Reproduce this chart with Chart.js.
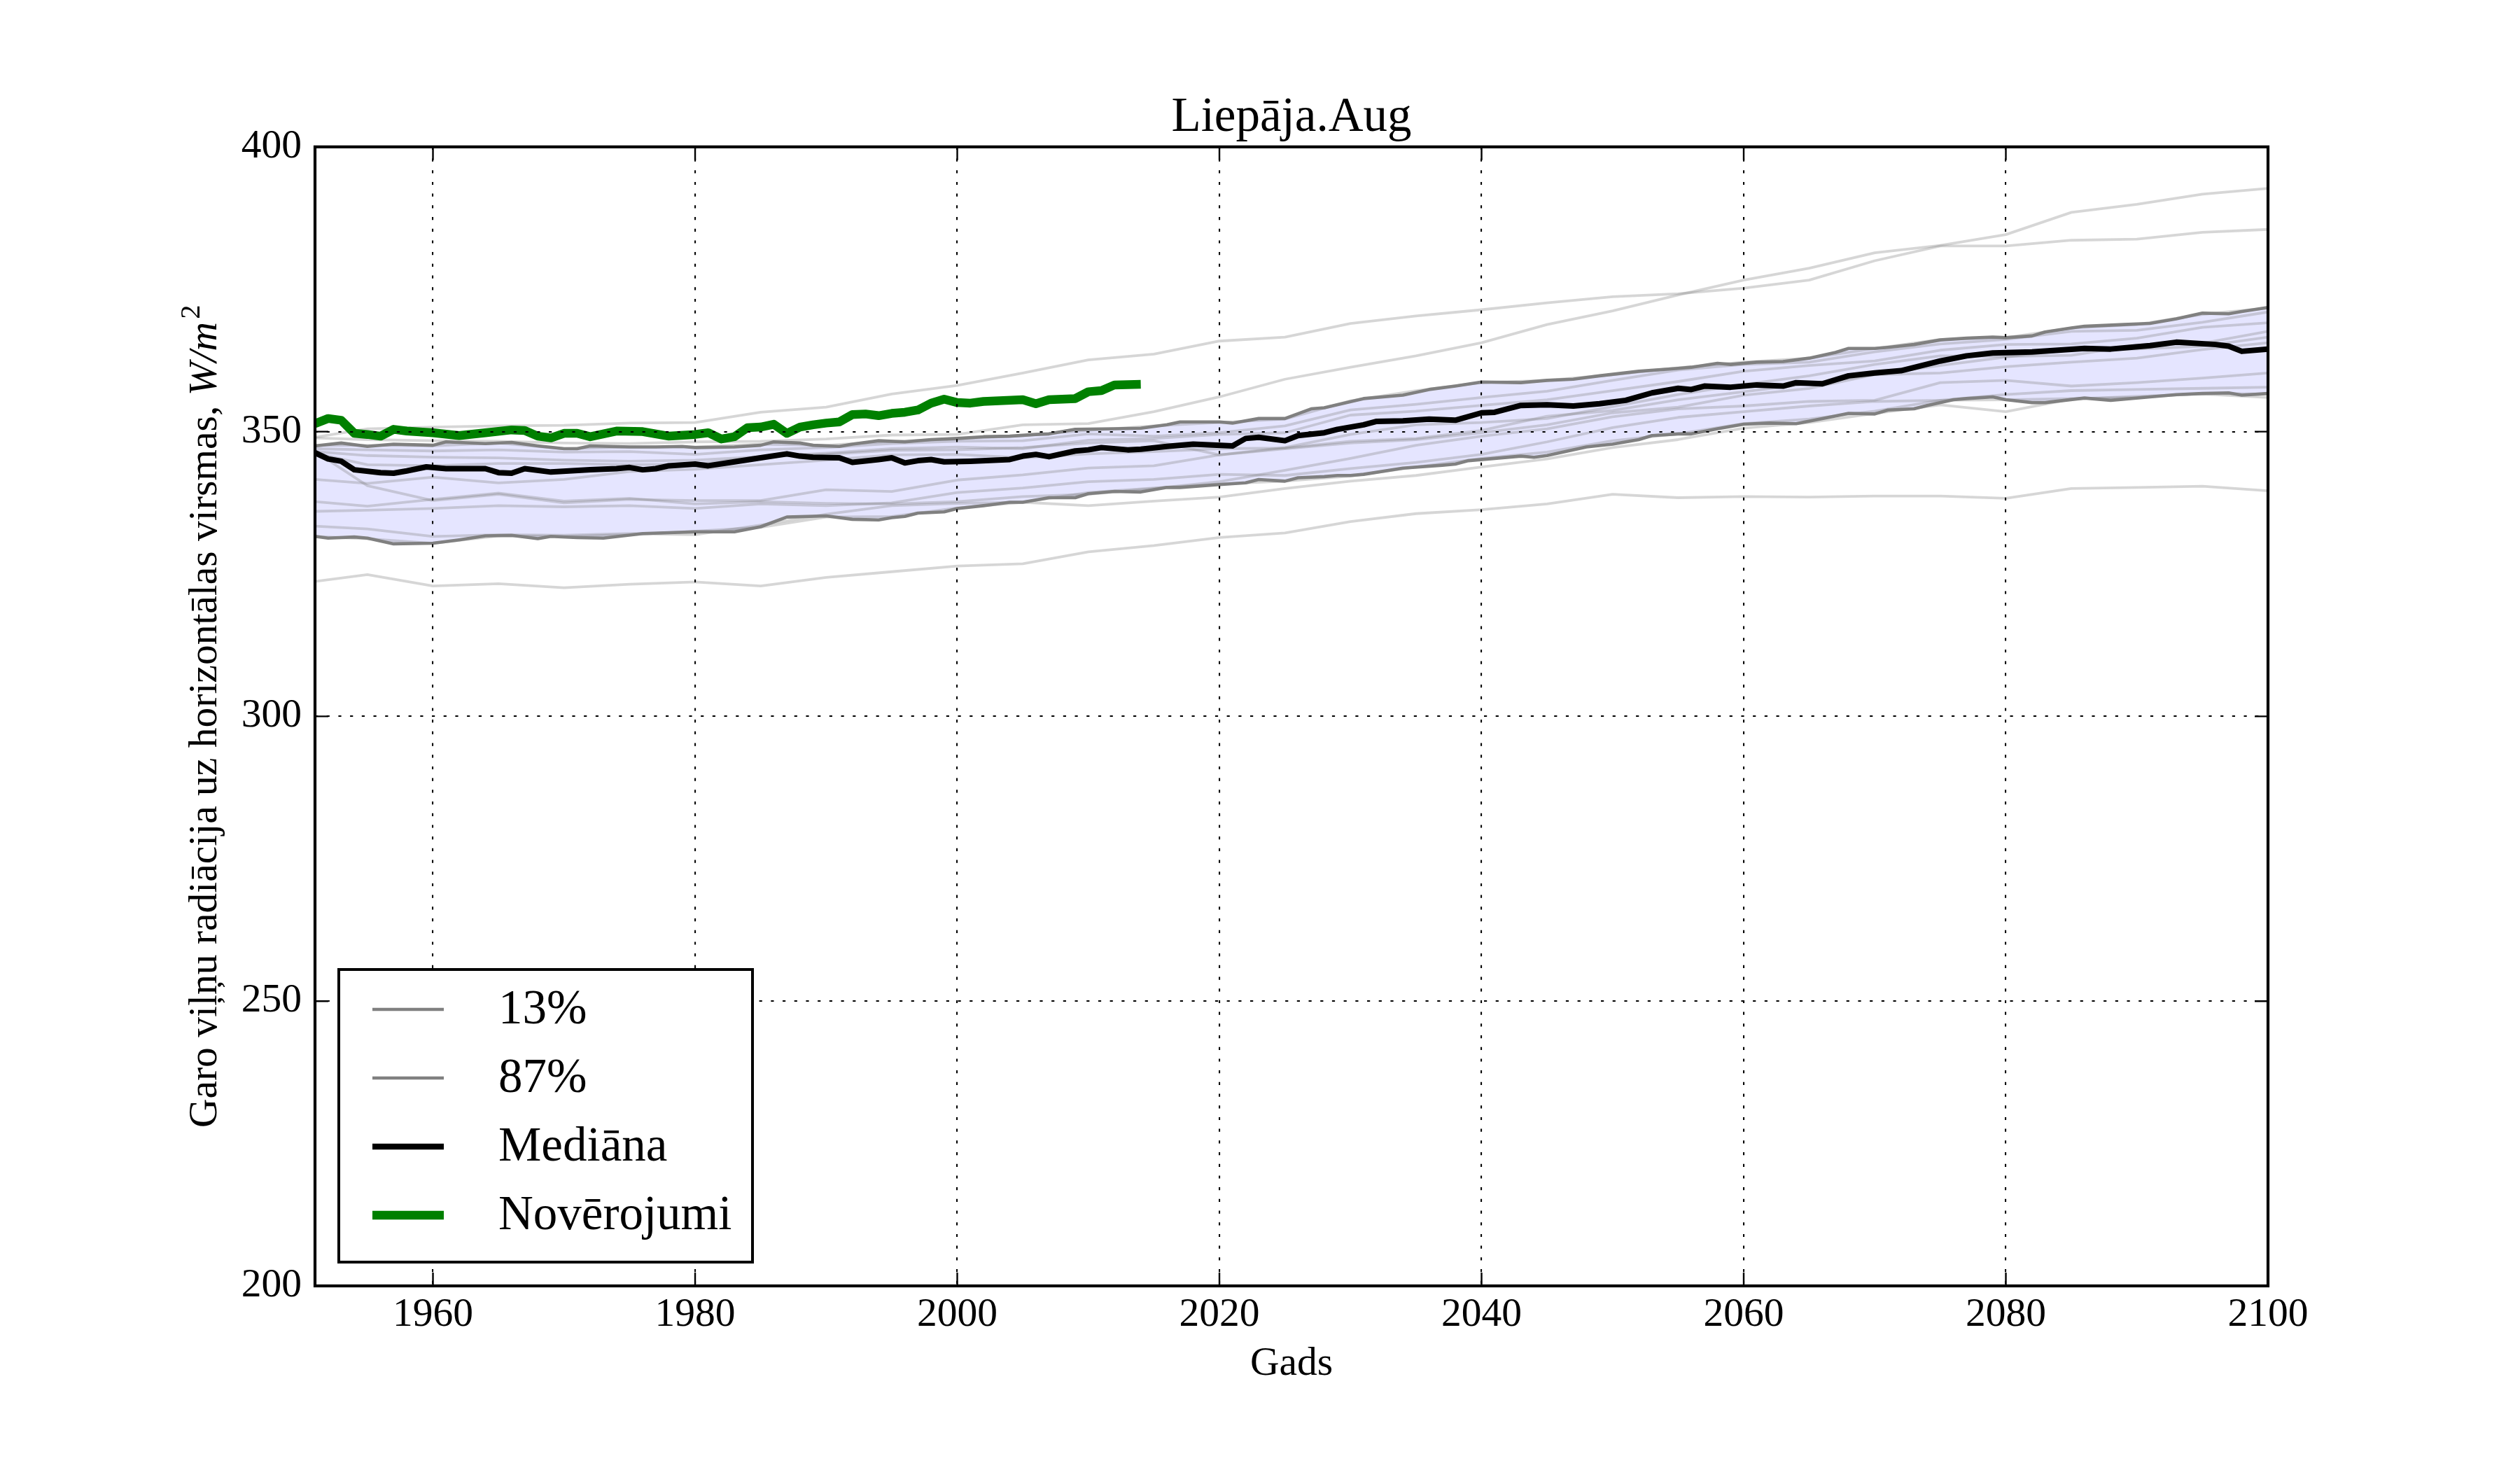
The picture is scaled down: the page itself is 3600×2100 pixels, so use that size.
<!DOCTYPE html>
<html>
<head>
<meta charset="utf-8">
<script src="https://cdn.jsdelivr.net/npm/chart.js@4.4.1/dist/chart.umd.min.js"></script>
<style>
html,body{margin:0;padding:0;background:#ffffff;}
canvas{display:block;}
</style>
</head>
<body>
<canvas id="c" width="3600" height="2100" style="width:3600px;height:2100px"></canvas>
<script>
// ---------------- text ----------------
const chartTitle = 'Liepāja.Aug';
const xAxisLabel = 'Gads';
const yAxisLabelText = 'Garo viļņu radiācija uz horizontālas virsmas, ';
const yAxisLabelUnit = 'W/m';
const yAxisLabelSup = '2';
const legendLabels = ['13%', '87%', 'Mediāna', 'Novērojumi'];

// ---------------- axes ----------------
const xMin = 1951, xMax = 2100;
const yMin = 200, yMax = 400;
const xTicks = [1960, 1980, 2000, 2020, 2040, 2060, 2080, 2100];
const yTicks = [200, 250, 300, 350, 400];

// ---------------- ensemble members (light grey) ----------------
const memberYears = [1951,1955,1960,1965,1970,1975,1980,1985,1990,1995,2000,2005,2010,2015,2020,2025,2030,2035,2040,2045,2050,2055,2060,2065,2070,2075,2080,2085,2090,2095,2100];
const memberP = [349.0,350.5,350.8,351.0,351.1,351.5,351.6,353.4,354.3,356.6,358.1,360.3,362.6,363.6,365.9,366.6,369.0,370.3,371.4,372.6,373.7,374.2,375.2,376.6,380.0,382.6,382.6,383.6,383.8,385.0,385.5];
const memberQ = [348.9,348.6,348.4,348.3,348.0,347.9,348.2,348.3,348.7,349.4,349.5,351.2,351.4,353.5,356.1,359.2,361.3,363.3,365.6,368.8,371.2,374.0,376.6,378.7,381.4,382.7,384.6,388.5,389.9,391.7,392.7];
const memberLow = [323.7,324.9,322.9,323.3,322.6,323.2,323.6,322.9,324.4,325.4,326.4,326.8,328.9,330.0,331.4,332.2,334.2,335.6,336.3,337.3,339.0,338.4,338.6,338.5,338.7,338.7,338.3,340.0,340.2,340.4,339.6];
const memberB1 = [347.6,347.6,347.5,348.0,347.0,347.3,347.3,347.8,347.6,348.3,348.7,349.3,350.2,351.0,351.6,352.2,355.4,357.2,358.6,359.0,360.0,361.2,362.2,362.9,364.6,366.2,366.5,368.2,368.8,370.6,371.7];
const memberB2 = [347.0,346.8,346.6,346.8,346.4,346.5,346.0,346.8,347.2,347.9,348.3,348.4,349.6,349.2,349.8,351.0,353.8,354.8,356.0,357.1,359.0,360.8,361.8,362.2,364.0,365.4,366.2,367.6,367.8,369.2,371.0];
const memberB3 = [346.5,345.8,345.5,345.4,345.0,344.8,345.0,345.6,346.2,347.0,347.3,347.0,348.5,348.8,349.5,349.8,352.9,353.6,354.6,355.6,357.2,358.8,360.6,361.6,362.4,364.3,365.3,365.4,366.4,368.3,369.1];
const memberB4 = [346.2,344.2,344.0,344.4,344.4,344.2,344.3,345.6,346.0,346.7,346.8,347.2,348.0,348.4,345.9,347.2,349.5,351.2,351.6,352.3,354.4,356.5,358.3,359.8,361.8,363.3,363.2,363.4,365.2,365.5,367.6];
const memberB5 = [341.6,340.9,342.0,341.0,341.6,343.0,343.4,344.2,345.0,345.9,346.0,345.4,346.1,346.5,347.0,347.1,348.3,348.8,350.2,352.7,353.7,355.6,357.0,358.4,360.0,361.6,363.1,364.4,364.5,365.0,366.6];
const memberB6 = [346.5,340.5,337.9,339.0,337.5,338.1,337.9,337.9,339.8,339.5,341.5,342.4,343.6,344.0,345.9,347.0,348.0,348.6,349.8,351.2,353.3,354.3,356.4,357.6,360.0,360.3,361.4,362.2,362.9,364.4,365.6];
const memberB7 = [337.7,336.9,338.1,339.2,337.8,338.3,337.3,337.7,337.4,337.3,337.7,338.6,339.0,340.0,341.2,343.2,345.3,347.6,349.2,350.5,352.6,354.0,354.5,355.3,355.5,358.6,359.0,358.0,358.6,359.4,360.3];
const memberB8 = [336.0,336.2,336.5,337.0,336.8,337.0,336.5,337.3,337.0,337.5,339.3,340.1,341.2,341.6,342.5,342.3,343.5,344.6,346.0,348.2,350.7,352.5,353.5,354.5,355.3,355.5,356.5,357.2,357.4,357.6,357.8];
const memberB9 = [333.4,332.9,331.6,331.9,331.8,332.1,331.9,333.6,335.5,337.0,337.4,337.6,337.0,337.8,338.5,340.0,341.3,342.3,343.8,345.2,347.2,348.6,350.6,351.6,353.2,354.7,353.5,355.7,356.2,356.6,356.0];
const memberB10 = [331.6,331.2,330.4,331.7,331.6,331.9,332.5,333.2,335.0,335.1,336.6,337.6,339.3,340.1,340.8,341.3,342.2,343.8,345.3,346.4,348.4,349.6,351.4,352.2,353.6,355.5,355.6,355.8,356.0,356.7,356.6];
const members = [memberP, memberQ, memberLow, memberB1, memberB2, memberB3, memberB4, memberB5, memberB6, memberB7, memberB8, memberB9, memberB10];

// ---------------- 13% percentile ----------------
const p13Years = [1951,1952,1954,1955,1957,1960,1962,1964,1966,1968,1969,1971,1973,1976,1980,1983,1985,1987,1990,1992,1994,1995,1996,1997,1999,2000,2002,2003,2004,2005,2007,2009,2010,2012,2014,2016,2017,2020,2022,2023,2025,2026,2028,2029,2030,2031,2034,2037,2038,2039,2041,2043,2044,2045,2048,2050,2052,2053,2055,2056,2058,2060,2062,2064,2066,2068,2070,2071,2073,2074,2076,2077,2079,2080,2082,2083,2086,2088,2091,2093,2095,2097,2098,2100];
const p13Vals = [331.6,331.3,331.5,331.3,330.3,330.4,331.0,331.7,331.8,331.2,331.6,331.4,331.3,332.1,332.4,332.4,333.3,335.0,335.2,334.6,334.5,334.9,335.1,335.7,335.9,336.5,337.0,337.3,337.6,337.6,338.4,338.4,339.1,339.5,339.4,340.2,340.2,340.7,341.0,341.6,341.3,341.9,342.1,342.3,342.3,342.5,343.6,344.1,344.3,344.9,345.3,345.7,345.5,345.8,347.3,347.8,348.6,349.3,349.6,349.6,350.5,351.3,351.5,351.4,352.3,353.2,353.1,353.8,354.0,354.6,355.6,355.8,356.1,355.6,355.1,355.1,355.9,355.5,356.1,356.5,356.7,356.8,356.4,356.7];

// ---------------- 87% percentile ----------------
const p87Years = [1951,1953,1955,1957,1960,1961,1964,1966,1968,1970,1971,1972,1975,1977,1979,1980,1983,1985,1986,1988,1989,1991,1992,1994,1996,1998,2000,2002,2004,2006,2007,2009,2012,2014,2016,2017,2020,2021,2023,2025,2027,2028,2031,2034,2036,2038,2040,2043,2045,2047,2049,2052,2055,2056,2058,2059,2061,2063,2065,2067,2068,2070,2071,2073,2075,2077,2079,2080,2082,2083,2085,2086,2089,2091,2093,2095,2097,2098,2100];
const p87Vals = [347.5,348.0,347.4,347.8,347.6,348.2,347.9,348.1,347.5,347.0,347.0,347.5,347.3,347.3,347.4,347.2,347.3,347.6,348.2,348.0,347.6,347.4,347.8,348.4,348.2,348.6,348.8,349.1,349.2,349.5,349.6,350.4,350.5,350.6,351.2,351.7,351.7,351.5,352.3,352.3,354.0,354.2,355.8,356.4,357.4,358.0,358.7,358.6,359.0,359.2,359.8,360.6,361.1,361.3,362.0,361.8,362.2,362.3,362.9,363.9,364.6,364.6,364.8,365.3,366.1,366.4,366.6,366.5,366.8,367.5,368.2,368.5,368.8,369.0,369.8,370.8,370.7,371.1,371.8];

// ---------------- median ----------------
const medYears = [1951,1952,1953,1954,1956,1957,1958,1959.5,1961,1964,1965,1966,1967,1969,1972,1974,1975,1976,1977,1978,1980,1981,1983,1985,1987,1988,1989,1991,1992,1994,1995,1996,1997,1998,1999,2001,2004,2005,2006,2007,2009,2010,2011,2013,2014,2016,2018,2021,2022,2023,2025,2026,2028,2029,2031,2032,2034,2036,2038,2040,2041,2043,2045,2047,2049,2051,2053,2055,2056,2057,2059,2061,2063,2064,2066,2068,2070,2072,2075,2077,2079,2082,2086,2088,2091,2093,2096,2097,2098,2100];
const medVals = [346.3,345.2,344.8,343.3,342.8,342.7,343.1,343.8,343.5,343.5,342.8,342.7,343.5,342.9,343.3,343.5,343.7,343.3,343.5,344.0,344.3,344.0,344.7,345.4,346.1,345.7,345.5,345.4,344.6,345.1,345.4,344.5,344.9,345.1,344.7,344.8,345.1,345.7,346.0,345.6,346.6,346.8,347.2,346.8,346.9,347.4,347.8,347.5,348.8,349.0,348.4,349.3,349.8,350.4,351.2,351.8,351.9,352.2,352.0,353.3,353.4,354.6,354.7,354.5,354.9,355.5,356.8,357.6,357.4,358.0,357.8,358.2,358.0,358.6,358.4,359.8,360.3,360.7,362.4,363.3,363.8,364.0,364.6,364.5,365.1,365.7,365.3,365.0,364.1,364.5];

// ---------------- observations ----------------
const obsYears = [1951,1952,1953,1954,1955,1956,1957,1958,1960,1962,1964,1966,1967,1968,1969,1970,1971,1972,1974,1976,1977,1978,1980,1981,1982,1983,1984,1985,1986,1987,1988,1989,1990,1991,1992,1993,1994,1995,1996,1997,1998,1999,2000,2001,2002,2005,2006,2007,2009,2010,2011,2012,2014];
const obsVals = [351.4,352.3,352.0,349.7,349.5,349.2,350.4,350.1,349.8,349.3,349.8,350.3,350.2,349.2,348.9,349.7,349.7,349.1,350.1,350.0,349.6,349.2,349.5,349.8,348.7,349.1,350.7,350.8,351.3,349.7,350.8,351.2,351.5,351.7,353.0,353.1,352.8,353.2,353.4,353.8,355.0,355.7,355.1,355.0,355.3,355.6,354.9,355.6,355.8,357.0,357.2,358.2,358.3];

// ---------------- build datasets ----------------
const toPts = (xs, ys) => xs.map((x, i) => ({x: x, y: ys[i]}));
const datasets = [];
members.forEach(m => datasets.push({
  label: '', data: toPts(memberYears, m), borderColor: 'rgba(128,128,128,0.32)',
  borderWidth: 3.8, pointRadius: 0, fill: false, order: 4, tension: 0,
  borderJoinStyle: 'round', borderCapStyle: 'butt'
}));
datasets.push({
  label: legendLabels[0], data: toPts(p13Years, p13Vals), borderColor: '#808080',
  backgroundColor: 'rgba(0,0,255,0.1)', borderWidth: 4.6, pointRadius: 0,
  fill: '+1', order: 3, tension: 0, borderJoinStyle: 'round', legend: true, legendWidth: 4.5
});
datasets.push({
  label: legendLabels[1], data: toPts(p87Years, p87Vals), borderColor: '#808080',
  borderWidth: 4.6, pointRadius: 0, fill: false, order: 3, tension: 0, borderJoinStyle: 'round', legend: true, legendWidth: 4.5
});
datasets.push({
  label: legendLabels[2], data: toPts(medYears, medVals), borderColor: '#000000',
  borderWidth: 8, pointRadius: 0, fill: false, order: 2, tension: 0, borderJoinStyle: 'round', legend: true, legendWidth: 8.5
});
datasets.push({
  label: legendLabels[3], data: toPts(obsYears, obsVals), borderColor: '#008000',
  borderWidth: 12.5, pointRadius: 0, fill: false, order: 1, tension: 0, borderJoinStyle: 'round', borderCapStyle: 'butt', legend: true, legendWidth: 12.5
});

const FONT = "'Liberation Serif', 'Times New Roman', serif";
const TICK_FONT = 57.5, LABEL_FONT = 57.5, TITLE_FONT = 69, LEGEND_FONT = 69;

// ---------------- decorations plugin (frame, inward ticks, legend, y label) ----------------
const decor = {
  id: 'decor',
  afterDraw(chart) {
    const ctx = chart.ctx;
    const a = chart.chartArea;
    const xs = chart.scales.x, ys = chart.scales.y;
    ctx.save();
    // inward tick marks on all four sides
    ctx.strokeStyle = '#000'; ctx.lineWidth = 2.4; ctx.setLineDash([]);
    const tl = 19;
    ctx.beginPath();
    xs.ticks.forEach(t => {
      const px = xs.getPixelForValue(t.value);
      ctx.moveTo(px, a.bottom); ctx.lineTo(px, a.bottom - tl);
      ctx.moveTo(px, a.top); ctx.lineTo(px, a.top + tl);
    });
    ys.ticks.forEach(t => {
      const py = ys.getPixelForValue(t.value);
      ctx.moveTo(a.left, py); ctx.lineTo(a.left + tl, py);
      ctx.moveTo(a.right, py); ctx.lineTo(a.right - tl, py);
    });
    ctx.stroke();
    // frame
    ctx.lineWidth = 4.2;
    ctx.strokeRect(a.left, a.top, a.right - a.left, a.bottom - a.top);

    // legend (lower left, inside axes)
    const bx = a.left + 34, bw = 591, bh = 418, by = a.bottom - 34 - bh;
    ctx.fillStyle = '#ffffff';
    ctx.fillRect(bx, by, bw, bh);
    ctx.lineWidth = 4; ctx.strokeStyle = '#000';
    ctx.strokeRect(bx, by, bw, bh);
    const legendSets = chart.data.datasets.filter(d => d.legend);
    const rowY = [57, 155, 253, 351];
    ctx.font = LEGEND_FONT + 'px ' + FONT;
    ctx.textBaseline = 'middle'; ctx.textAlign = 'left';
    legendSets.forEach((d, i) => {
      const y = by + rowY[i];
      ctx.beginPath();
      ctx.strokeStyle = d.borderColor;
      ctx.lineWidth = d.legendWidth;
      ctx.lineCap = 'butt';
      ctx.moveTo(bx + 48, y); ctx.lineTo(bx + 150, y);
      ctx.stroke();
      ctx.fillStyle = '#000';
      ctx.fillText(d.label, bx + 228, y + 2);
    });

    // y axis label with italic unit and superscript
    const cx = 290, cy = (a.top + a.bottom) / 2;
    ctx.translate(cx, cy);
    ctx.rotate(-Math.PI / 2);
    const fN = LABEL_FONT + 'px ' + FONT;
    const fI = 'italic ' + LABEL_FONT + 'px ' + FONT;
    const fS = (LABEL_FONT * 0.7).toFixed(1) + 'px ' + FONT;
    ctx.font = fN; const w1 = ctx.measureText(yAxisLabelText).width;
    ctx.font = fI; const w2 = ctx.measureText(yAxisLabelUnit).width;
    ctx.font = fS; const w3 = ctx.measureText(yAxisLabelSup).width;
    const total = w1 + w2 + w3 + 4;
    let x0 = -total / 2;
    const base = LABEL_FONT * 0.33;
    ctx.fillStyle = '#000'; ctx.textBaseline = 'alphabetic'; ctx.textAlign = 'left';
    ctx.font = fN; ctx.fillText(yAxisLabelText, x0, base); x0 += w1;
    ctx.font = fI; ctx.fillText(yAxisLabelUnit, x0, base); x0 += w2 + 4;
    ctx.font = fS; ctx.fillText(yAxisLabelSup, x0, base - LABEL_FONT * 0.42);
    ctx.restore();
  }
};

Chart.defaults.color = '#000';
Chart.defaults.font.family = FONT;

new Chart(document.getElementById('c'), {
  type: 'line',
  data: {datasets: datasets},
  options: {
    responsive: false,
    devicePixelRatio: 1,
    animation: false,
    events: [],
    layout: {padding: {top: 127, left: 0, right: 360, bottom: 116.5}},
    plugins: {
      legend: {display: false},
      tooltip: {enabled: false},
      filler: {drawTime: 'beforeDatasetsDraw'},
      title: {
        display: true, text: chartTitle, fullSize: false, color: '#000',
        font: {family: FONT, size: TITLE_FONT, weight: 'normal', lineHeight: 1.2},
        padding: {top: 0, bottom: 0}
      }
    },
    scales: {
      x: {
        type: 'linear', position: 'bottom', min: xMin, max: xMax,
        afterBuildTicks: s => { s.ticks = xTicks.map(v => ({value: v})); },
        afterFit: s => { s.height = 146.5; },
        ticks: {callback: v => String(v), font: {family: FONT, size: TICK_FONT}, padding: 7, maxRotation: 0, autoSkip: false, color: '#000'},
        grid: {color: '#000', lineWidth: 2.1, drawTicks: false, z: 1},
        border: {display: false, dash: [4.2, 12.5]},
        title: {display: true, text: xAxisLabel, font: {family: FONT, size: LABEL_FONT, lineHeight: 1.2}, padding: {top: 0, bottom: 0}, color: '#000'}
      },
      y: {
        type: 'linear', position: 'left', min: yMin, max: yMax,
        afterBuildTicks: s => { s.ticks = yTicks.map(v => ({value: v})); },
        afterFit: s => { s.width = 450; },
        ticks: {callback: v => String(v), font: {family: FONT, size: TICK_FONT}, padding: 19, color: '#000'},
        grid: {color: '#000', lineWidth: 2.1, drawTicks: false, z: 1},
        border: {display: false, dash: [4.2, 12.5]},
        title: {display: false}
      }
    }
  },
  plugins: [decor]
});
</script>
</body>
</html>
